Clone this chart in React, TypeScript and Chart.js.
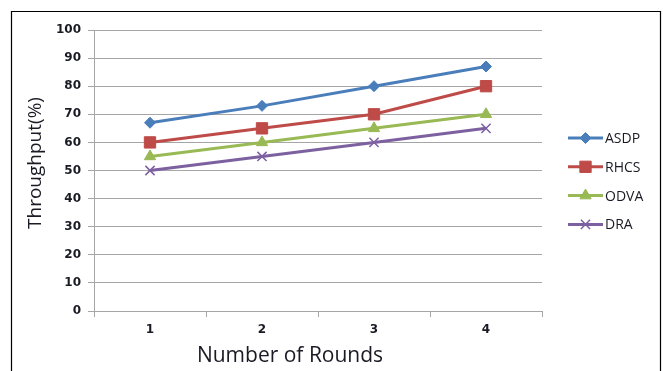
import React, { useEffect, useRef } from "react";
import { Chart, registerables } from "chart.js";

Chart.register(...registerables);

const rounds = ["1", "2", "3", "4"];
const asdp = [67, 73, 80, 87];
const rhcs = [60, 65, 70, 80];
const odva = [55, 60, 65, 70];
const dra = [50, 55, 60, 65];

const seriesNames = ["ASDP", "RHCS", "ODVA", "DRA"];
const seriesColors = ["#4A7EBB", "#BE4B48", "#98B954", "#7D60A0"];
const pointStyles = ["rectRot", "rect", "triangle", "crossRot"];
const pointRadii = [5.5, 8, 6.5, 6.5];

const xTitle = "Number of Rounds";
const yTitle = "Throughput(%)";

const GRID = "#A6A6A6";
const TEXT = "#1a1a24";

// Frame around the figure (open at the bottom)
const framePlugin = {
  id: "frame",
  beforeDraw(chart: any) {
    const ctx = chart.ctx;
    ctx.save();
    ctx.strokeStyle = "#000";
    ctx.lineWidth = 1.2;
    ctx.beginPath();
    ctx.moveTo(11.5, 380);
    ctx.lineTo(11.5, 11.5);
    ctx.lineTo(660.5, 11.5);
    ctx.lineTo(660.5, 380);
    ctx.stroke();
    ctx.restore();
  },
};

// Axis titles, placed independently of the scale boxes
const axisTitlePlugin = {
  id: "axisTitles",
  afterDraw(chart: any) {
    const ctx = chart.ctx;
    ctx.save();
    ctx.fillStyle = TEXT;
    ctx.textAlign = "center";
    ctx.textBaseline = "middle";
    ctx.font = "21px 'Open Sans', sans-serif";
    ctx.fillText(xTitle, 290, 356);
    ctx.translate(36, 163);
    ctx.rotate(-Math.PI / 2);
    ctx.font = "19px 'Open Sans', sans-serif";
    ctx.fillText(yTitle, 0, 0);
    ctx.restore();
  },
};

function drawMarker(ctx: CanvasRenderingContext2D, style: string, r: number, x: number, y: number) {
  const s = Math.SQRT1_2 * r;
  ctx.beginPath();
  if (style === "rectRot") {
    ctx.moveTo(x - r, y);
    ctx.lineTo(x, y - r);
    ctx.lineTo(x + r, y);
    ctx.lineTo(x, y + r);
    ctx.closePath();
    ctx.fill();
    ctx.stroke();
  } else if (style === "rect") {
    ctx.rect(x - s, y - s, 2 * s, 2 * s);
    ctx.fill();
    ctx.stroke();
  } else if (style === "triangle") {
    for (let k = 0; k < 3; k++) {
      const a = (k * 2 * Math.PI) / 3;
      const px = x + Math.sin(a) * r;
      const py = y - Math.cos(a) * r;
      if (k === 0) ctx.moveTo(px, py);
      else ctx.lineTo(px, py);
    }
    ctx.closePath();
    ctx.fill();
    ctx.stroke();
  } else {
    ctx.moveTo(x - s, y - s);
    ctx.lineTo(x + s, y + s);
    ctx.moveTo(x + s, y - s);
    ctx.lineTo(x - s, y + s);
    ctx.stroke();
  }
}

// Legend at the right: line sample with marker and series name
const legendPlugin = {
  id: "sideLegend",
  afterDraw(chart: any) {
    const ctx = chart.ctx;
    const x0 = 568;
    const x1 = 603;
    const yStart = 138;
    const step = 28.8;
    chart.data.datasets.forEach((ds: any, i: number) => {
      const y = yStart + i * step;
      ctx.save();
      ctx.strokeStyle = ds.borderColor;
      ctx.lineWidth = 3;
      ctx.beginPath();
      ctx.moveTo(x0, y);
      ctx.lineTo(x1, y);
      ctx.stroke();
      ctx.fillStyle = ds.pointBackgroundColor;
      ctx.strokeStyle = ds.pointBorderColor;
      ctx.lineWidth = ds.pointBorderWidth;
      drawMarker(ctx, ds.pointStyle, ds.pointRadius, (x0 + x1) / 2, y);
      ctx.fillStyle = TEXT;
      ctx.font = "14px 'Open Sans', sans-serif";
      ctx.textAlign = "left";
      ctx.textBaseline = "middle";
      ctx.fillText(seriesNames[i], x1 + 2, y + 1);
      ctx.restore();
    });
  },
};

export default function App() {
  const canvasRef = useRef<HTMLCanvasElement | null>(null);

  useEffect(() => {
    if (!canvasRef.current) return;
    const values = [asdp, rhcs, odva, dra];
    const chart = new Chart(canvasRef.current, {
      type: "line",
      data: {
        labels: rounds,
        datasets: values.map((v, i) => ({
          label: seriesNames[i],
          data: v,
          borderColor: seriesColors[i],
          backgroundColor: seriesColors[i],
          pointBackgroundColor: seriesColors[i],
          pointBorderColor: seriesColors[i],
          pointBorderWidth: pointStyles[i] === "crossRot" ? 1.5 : 1,
          pointStyle: pointStyles[i] as any,
          pointRadius: pointRadii[i],
          borderWidth: 3,
          tension: 0,
        })),
      },
      options: {
        animation: false,
        responsive: false,
        maintainAspectRatio: false,
        layout: { padding: { left: 0, right: 121, top: 30, bottom: 0 } },
        plugins: {
          legend: { display: false },
          tooltip: { enabled: false },
        },
        scales: {
          x: {
            type: "category",
            offset: true,
            afterFit(scale: any) {
              scale.height = 60;
            },
            grid: {
              offset: true,
              drawOnChartArea: false,
              drawTicks: true,
              tickLength: 6,
              color: GRID,
            },
            border: { display: true, color: GRID, width: 1 },
            ticks: {
              color: TEXT,
              padding: 6,
              font: { family: "'DejaVu Sans', sans-serif", size: 12, weight: "bold" },
            },
          },
          y: {
            min: 0,
            max: 100,
            afterFit(scale: any) {
              scale.width = 94;
            },
            ticks: {
              stepSize: 10,
              color: TEXT,
              padding: 7,
              font: { family: "'DejaVu Sans', sans-serif", size: 12, weight: "bold" },
            },
            grid: {
              color: GRID,
              lineWidth: 1,
              drawTicks: true,
              tickLength: 6,
            },
            border: { display: true, color: GRID, width: 1 },
          },
        },
      },
      plugins: [framePlugin, axisTitlePlugin, legendPlugin],
    });
    return () => chart.destroy();
  }, []);

  return (
    <div style={{ position: "absolute", left: 0, top: 0, width: 663, height: 371, background: "#fff" }}>
      <canvas ref={canvasRef} width={663} height={371} style={{ width: 663, height: 371 }} />
    </div>
  );
}
